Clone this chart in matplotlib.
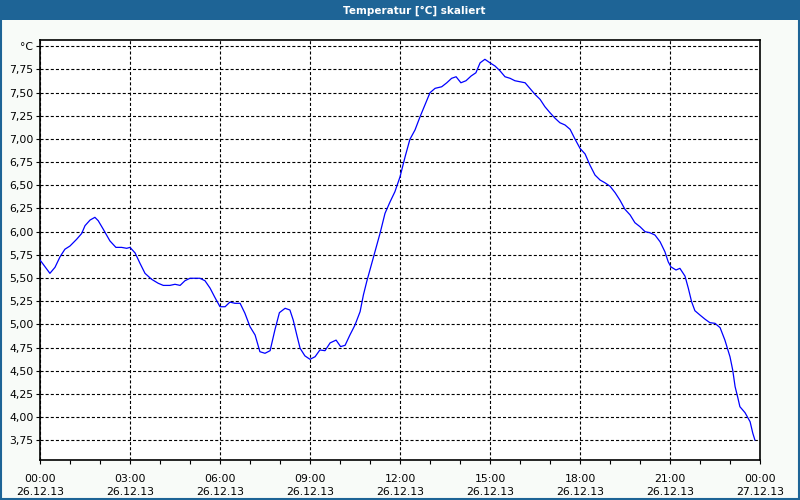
import matplotlib
matplotlib.use("Agg")
import matplotlib.pyplot as plt
from matplotlib.ticker import FixedLocator, MultipleLocator
from matplotlib.patches import Rectangle

title = "Temperatur [°C] skaliert"
unit_label = "°C"

hours = [0.0, 0.32, 0.49, 0.66, 0.82, 0.99, 1.21, 1.38, 1.49, 1.66, 1.82, 1.93, 2.1, 2.32, 2.52,
         2.71, 2.88, 2.99, 3.16, 3.32, 3.49, 3.71, 3.93, 4.1, 4.32, 4.49, 4.66, 4.82, 4.99, 5.32,
         5.49, 5.66, 5.82, 5.99, 6.16, 6.32, 6.49, 6.66, 6.82, 6.99, 7.16, 7.32, 7.49, 7.66, 7.82,
         7.97, 8.16, 8.32, 8.43, 8.55, 8.66, 8.82, 8.99, 9.16, 9.32, 9.49, 9.66, 9.86, 10.01, 10.16,
         10.32, 10.49, 10.66, 10.77, 10.88, 11.05, 11.2, 11.33, 11.49, 11.66, 11.82, 11.99, 12.16,
         12.32, 12.49, 12.66, 12.82, 12.99, 13.16, 13.38, 13.55, 13.71, 13.86, 14.02, 14.19, 14.36,
         14.52, 14.66, 14.82, 14.99, 15.16, 15.32, 15.49, 15.66, 15.82, 15.99, 16.16, 16.32, 16.49,
         16.66, 16.82, 16.99, 17.16, 17.32, 17.49, 17.66, 17.82, 17.99, 18.16, 18.32, 18.49, 18.66,
         18.82, 18.99, 19.16, 19.32, 19.49, 19.66, 19.82, 19.99, 20.16, 20.32, 20.49, 20.66, 20.82,
         20.93, 21.02, 21.19, 21.32, 21.49, 21.6, 21.71, 21.82, 21.99, 22.16, 22.32, 22.49, 22.66,
         22.82, 22.99, 23.08, 23.16, 23.25, 23.32, 23.49, 23.66, 23.75, 23.82]
temps = [5.69, 5.55, 5.615, 5.73, 5.81, 5.845, 5.917, 5.98, 6.064, 6.125, 6.154, 6.118, 6.025, 5.90, 5.83,
         5.83, 5.82, 5.83, 5.77, 5.66, 5.55, 5.486, 5.443, 5.42, 5.42, 5.432, 5.42, 5.47, 5.497, 5.497,
         5.47, 5.39, 5.29, 5.19, 5.19, 5.24, 5.227, 5.227, 5.12, 4.975, 4.885, 4.705, 4.688, 4.716, 4.94,
         5.126, 5.173, 5.155, 5.047, 4.885, 4.742, 4.66, 4.623, 4.651, 4.724, 4.716, 4.80, 4.83, 4.76, 4.774,
         4.885, 4.993, 5.137, 5.317, 5.46, 5.66, 5.84, 5.988, 6.197, 6.322, 6.43, 6.59, 6.807,
         6.995, 7.096, 7.24, 7.365, 7.498, 7.545, 7.562, 7.605, 7.653, 7.67, 7.605, 7.627, 7.678,
         7.713, 7.82, 7.858, 7.82, 7.785, 7.735, 7.67, 7.653, 7.627, 7.616, 7.605, 7.545, 7.48,
         7.426, 7.347, 7.282, 7.222, 7.174, 7.15, 7.103, 7.0, 6.898, 6.837, 6.718, 6.61, 6.556,
         6.527, 6.49, 6.42, 6.34, 6.24, 6.18, 6.096, 6.053, 5.999, 5.988, 5.963, 5.89, 5.783,
         5.675, 5.62, 5.586, 5.604, 5.52, 5.39, 5.244, 5.147, 5.10, 5.055, 5.018, 5.011, 4.964,
         4.83, 4.65, 4.508, 4.328, 4.21, 4.112, 4.048, 3.95, 3.826, 3.753]

y_ticks = [3.75, 4.0, 4.25, 4.5, 4.75, 5.0, 5.25, 5.5, 5.75, 6.0, 6.25, 6.5, 6.75, 7.0, 7.25, 7.5, 7.75, 8.0]
y_labels = ["3,75", "4,00", "4,25", "4,50", "4,75", "5,00", "5,25", "5,50", "5,75", "6,00", "6,25",
            "6,50", "6,75", "7,00", "7,25", "7,50", "7,75", "°C"]
x_ticks = [0, 3, 6, 9, 12, 15, 18, 21, 24]
x_labels = ["00:00\n26.12.13", "03:00\n26.12.13", "06:00\n26.12.13", "09:00\n26.12.13",
            "12:00\n26.12.13", "15:00\n26.12.13", "18:00\n26.12.13", "21:00\n26.12.13",
            "00:00\n27.12.13"]

plt.rcParams['lines.scale_dashes'] = False
bar_blue = "#1E6496"
bg = "#F8FBF8"

fig = plt.figure(figsize=(8, 5), dpi=100, facecolor=bg)
# title bar and frame
fig.patches.append(Rectangle((0, 1 - 19.5 / 500), 1, 19.5 / 500, transform=fig.transFigure,
                             facecolor=bar_blue, edgecolor="none", zorder=0))
fig.patches.append(Rectangle((0.001, 0.002), 0.998, 0.996, transform=fig.transFigure,
                             facecolor="none", edgecolor=bar_blue, linewidth=1.5, zorder=1))
fig.text(414 / 800, 1 - 10.5 / 500, title, color="white", fontsize=7.5, fontweight="bold",
         ha="center", va="center")

ax = fig.add_axes([40.3 / 800, 1 - 460.3 / 500, 720 / 800, 420 / 500])
ax.set_facecolor("white")
ax.plot(hours, temps, color="#0000FF", linewidth=0.9, zorder=3)
ax.set_xlim(0, 24)
ax.set_ylim(3.534, 8.063)

ax.yaxis.set_major_locator(FixedLocator(y_ticks))
ax.set_yticklabels(y_labels)
ax.xaxis.set_major_locator(FixedLocator(x_ticks))
ax.set_xticklabels(x_labels, linespacing=1.35)
ax.xaxis.set_minor_locator(MultipleLocator(1))

ax.grid(True, which="major", color="black", linewidth=0.8, linestyle=(0, (2.2, 1.5)), zorder=1)
for s in ax.spines.values():
    s.set_color("black")
    s.set_linewidth(1.2)
ax.tick_params(axis="both", which="both", direction="out", length=3, width=0.8, color="black",
               labelsize=7.8, labelcolor="black")
ax.tick_params(axis="x", which="major", pad=7)
ax.tick_params(axis="y", which="major", pad=2)

fig.savefig("out.png", dpi=100, facecolor=bg)
